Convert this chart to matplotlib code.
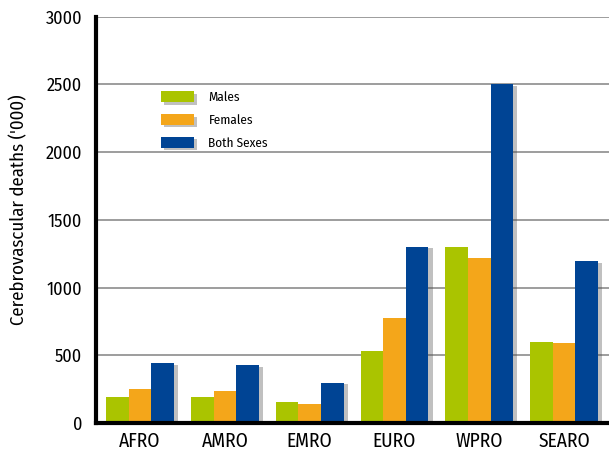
import matplotlib
matplotlib.use("Agg")
import matplotlib.pyplot as plt
import matplotlib.patheffects as pe
import numpy as np

regions = ["AFRO", "AMRO", "EMRO", "EURO", "WPRO", "SEARO"]
males = [190, 195, 155, 530, 1300, 600]
females = [250, 235, 140, 775, 1215, 590]
both = [440, 425, 295, 1300, 2500, 1195]
series_names = ["Males", "Females", "Both Sexes"]
yticks = [0, 500, 1000, 1500, 2000, 2500, 3000]

colors = ["#AAC400", "#F4A61A", "#004494"]
plt.rcParams['font.family'] = ["Fira Sans Condensed", "Asap Condensed", "DejaVu Sans"]

fig = plt.figure(figsize=(6.09, 4.57), dpi=100)
W, H = 609, 457
ax = fig.add_axes([96 / W, (H - 423) / H, (609 - 96) / W, (423 - 16.7) / H])

x = np.arange(len(regions))
bw = 0.267
shadow = [pe.SimplePatchShadow(offset=(3, -1), shadow_rgbFace=(0.3, 0.3, 0.3), alpha=0.35), pe.Normal()]
for i, (vals, c, name) in enumerate(zip([males, females, both], colors, series_names)):
    bars = ax.bar(x + (i - 1) * bw, vals, width=bw, color=c, label=name, zorder=3)
    if i == 2:
        for b in bars:
            b.set_path_effects(shadow)

ax.set_ylim(0, 3000)
ax.set_xlim(-0.52, 5.53)
ax.set_yticks(yticks)
ax.set_yticklabels([str(v) for v in yticks])
ax.set_xticks(x)
ax.set_xticklabels(regions)
ax.tick_params(axis='y', length=0, pad=10, labelsize=13)
ax.tick_params(axis='x', length=0, pad=6, labelsize=14)
ax.grid(axis='y', color='#8c8c8c', linewidth=1.2, zorder=0)
ax.set_axisbelow(True)
for s in ['top', 'right']:
    ax.spines[s].set_visible(False)
for s in ['left', 'bottom']:
    ax.spines[s].set_linewidth(3)
    ax.spines[s].set_color('black')
    ax.spines[s].set_zorder(5)
ax.set_ylabel("Cerebrovascular deaths ('000)", fontsize=13.5)
ax.yaxis.set_label_coords(-68 / (609 - 96), 0.525)

leg = ax.legend(loc='upper left', bbox_to_anchor=(149 / W, 1 - 79 / H), bbox_transform=fig.transFigure,
                frameon=False, fontsize=9.5, handlelength=2.5, handleheight=0.9,
                labelspacing=0.78, handletextpad=1.1)
for p in leg.get_patches():
    p.set_path_effects([pe.SimplePatchShadow(offset=(2, -2), shadow_rgbFace=(0.3, 0.3, 0.3), alpha=0.35), pe.Normal()])

fig.savefig("out.png", dpi=100)
